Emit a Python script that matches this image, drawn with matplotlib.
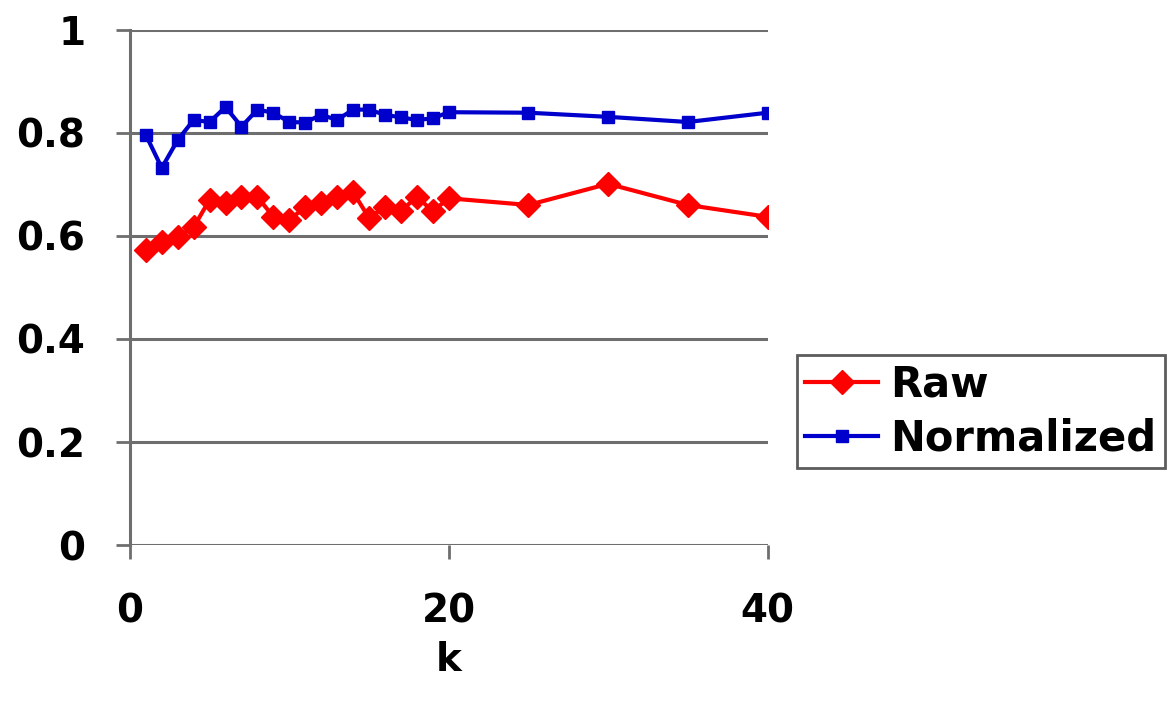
import matplotlib
matplotlib.use("Agg")
import matplotlib.pyplot as plt

# ----------------------
# Data
# ----------------------
k = [1, 2, 3, 4, 5, 6, 7, 8, 9, 10, 11, 12, 13, 14, 15, 16, 17, 18, 19, 20,
     25, 30, 35, 40]
raw = [0.573, 0.588, 0.598, 0.617, 0.670, 0.664, 0.676, 0.676, 0.637, 0.631,
       0.656, 0.664, 0.676, 0.685, 0.635, 0.656, 0.648, 0.676, 0.648, 0.673,
       0.660, 0.701, 0.660, 0.637]
normalized = [0.796, 0.732, 0.786, 0.825, 0.821, 0.850, 0.812, 0.845, 0.839, 0.821,
              0.820, 0.835, 0.825, 0.845, 0.845, 0.835, 0.830, 0.825, 0.828, 0.840,
              0.839, 0.831, 0.821, 0.839]

x_ticks = [0, 20, 40]
y_ticks = [0, 0.2, 0.4, 0.6, 0.8, 1]
y_labels = ["0", "0.2", "0.4", "0.6", "0.8", "1"]

# ----------------------
# Figure
# ----------------------
plt.rcParams["font.family"] = ["DejaVu Sans"]
plt.rcParams["font.weight"] = "bold"

fig = plt.figure(figsize=(11.7, 7.08), dpi=100)
ax = fig.add_axes([0.111, 0.230, 0.545, 0.728])

grid_color = "#6e6e6e"
for y in y_ticks:
    ax.axhline(y, color=grid_color, lw=2.2, zorder=1)

ax.plot(k, raw, color="#ff0000", lw=3, marker="D", markersize=12,
        markeredgecolor="#ff0000", label="Raw", zorder=3)
ax.plot(k, normalized, color="#0000cc", lw=3, marker="s", markersize=8.5,
        markeredgecolor="#0000cc", label="Normalized", zorder=3)

ax.set_xlim(0, 40)
ax.set_ylim(0, 1)
ax.set_xticks(x_ticks)
ax.set_yticks(y_ticks)
ax.set_yticklabels(y_labels)
ax.tick_params(axis="both", labelsize=28, width=2, length=10, color=grid_color,
               direction="out")
ax.tick_params(axis="y", pad=22)
ax.tick_params(axis="x", pad=24)
for lab in ax.get_xticklabels() + ax.get_yticklabels():
    lab.set_fontweight("bold")

for side in ["top", "right", "bottom"]:
    ax.spines[side].set_visible(False)
ax.spines["left"].set_color(grid_color)
ax.spines["left"].set_linewidth(2.2)

ax.set_xlabel("k", fontsize=28, fontweight="bold", labelpad=8)

# legend sits right of the plot, its right edge runs off the figure
leg = fig.legend(loc="lower left", bbox_to_anchor=(0.681, 0.339),
                 prop={"size": 30, "weight": "bold"}, frameon=True,
                 fancybox=False, handlelength=1.75, handletextpad=0.3,
                 borderpad=0.2, labelspacing=0.3, borderaxespad=0)
leg.get_frame().set_edgecolor("#333333")
leg.get_frame().set_linewidth(2)

fig.savefig("out.png", dpi=100)
